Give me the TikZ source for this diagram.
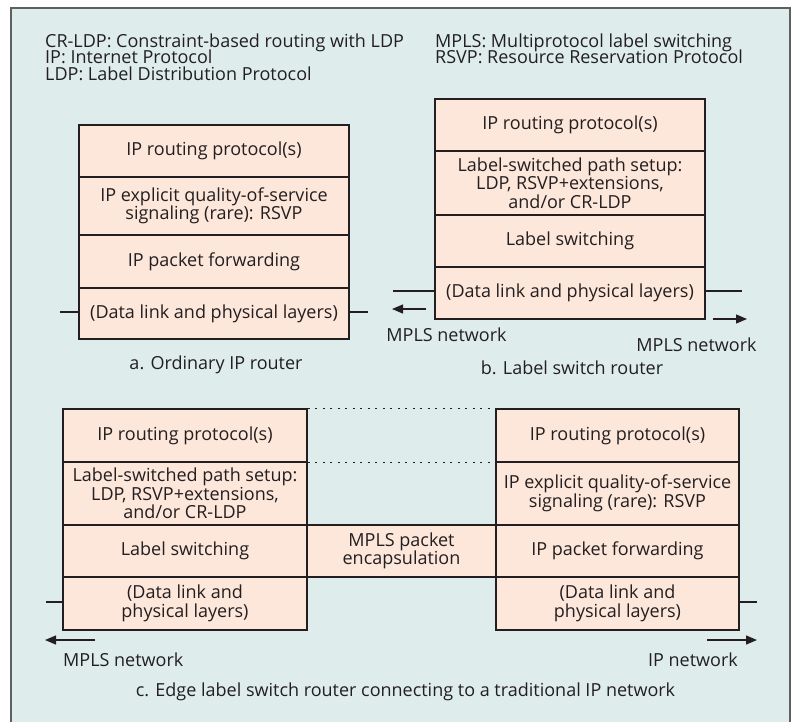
\documentclass[tikz,border=0pt]{standalone}
\usepackage{fontspec}
\setmainfont{Open Sans}
\usetikzlibrary{arrows.meta}
\definecolor{panelbg}{RGB}{222,237,236}
\definecolor{cellbg}{RGB}{253,230,218}
\definecolor{framegray}{RGB}{95,95,95}
\definecolor{ink}{RGB}{35,31,32}
\begin{document}
\begin{tikzpicture}[x=1pt,y=-1pt,
  txt/.style={font=\fontsize{18}{18.5}\selectfont, text=ink, inner sep=0pt},
  legend/.style={txt, anchor=west, text height=12pt, text depth=4pt},
  cell/.style={txt, draw=ink, line width=1.3pt, fill=cellbg, align=center},
  wire/.style={draw=ink, line width=1.3pt},
  netarrow/.style={draw=ink, line width=1.3pt, -{Triangle[length=11pt,width=9pt]}},
  guide/.style={draw=ink, line width=1pt, dash pattern=on 2pt off 5.5pt}
]
\useasboundingbox (0,0) rectangle (798,721);
% background panel
\fill[white] (0,0) rectangle (798,721);
\draw[framegray, line width=2pt, fill=panelbg] (11,8) rectangle (790,724);

% abbreviations
\node[legend] (l1) at (45,43) {CR-LDP: Constraint-based routing with LDP};
\node[legend] (l2) at (45,59.5) {IP: Internet Protocol};
\node[legend] (l3) at (45,76) {LDP: Label Distribution Protocol};
\node[legend] (l4) at (435,43) {MPLS: Multiprotocol label switching};
\node[legend] (l5) at (435,59.5) {RSVP: Resource Reservation Protocol};

% a. ordinary IP router
\node[cell, minimum width=270pt, minimum height=52pt] (a1) at (214,151) {IP routing protocol(s)};
\node[cell, minimum width=270pt, minimum height=58pt] (a2) at (214,206) {IP explicit quality-of-service\\signaling (rare): RSVP};
\node[cell, minimum width=270pt, minimum height=53pt] (a3) at (214,261.5) {IP packet forwarding};
\node[cell, minimum width=270pt, minimum height=51pt] (a4) at (214,313.5) {(Data link and physical layers)};
\coordinate (aL) at (60,312);
\coordinate (aR) at (368,312);
\draw[wire] (aL) -- (a4.west |- aL);
\draw[wire] (a4.east |- aR) -- (aR);
\node[txt] (capa) at (216,365) {a. Ordinary IP router};

% b. label switch router
\node[cell, minimum width=270pt, minimum height=52pt] (b1) at (570,125) {IP routing protocol(s)};
\node[cell, minimum width=270pt, minimum height=64pt] (b2) at (570,183) {Label-switched path setup:\\LDP, RSVP+extensions,\\and/or CR-LDP};
\node[cell, minimum width=270pt, minimum height=52pt] (b3) at (570,241) {Label switching};
\node[cell, minimum width=270pt, minimum height=52pt] (b4) at (570,293) {(Data link and physical layers)};
\coordinate (bL) at (393,291);
\coordinate (bR) at (742,291);
\draw[wire] (bL) -- (b4.west |- bL);
\draw[wire] (b4.east |- bR) -- (bR);
\coordinate (bLa) at (426,309);
\coordinate (bLb) at (392,309);
\coordinate (bRa) at (713,319);
\coordinate (bRb) at (747,319);
\draw[netarrow] (bLa) -- (bLb);
\draw[netarrow] (bRa) -- (bRb);
\node[txt] (bnl) at (446.5,335) {MPLS network};
\node[txt] (bnr) at (696.5,345) {MPLS network};
\node[txt] (capb) at (572,368) {b. Label switch router};

% c. edge label switch router
\node[cell, minimum width=244pt, minimum height=53pt] (c1) at (185,435.5) {IP routing protocol(s)};
\node[cell, minimum width=244pt, minimum height=63pt] (c2) at (185,493.5) {Label-switched path setup:\\LDP, RSVP+extensions,\\and/or CR-LDP};
\node[cell, minimum width=244pt, minimum height=52pt] (c3) at (185,551) {Label switching};
\node[cell, minimum width=244pt, minimum height=53pt] (c4) at (185,603.5) {(Data link and\\physical layers)};
\node[cell, minimum width=189pt, minimum height=52pt] (cm) at (401.5,551) {MPLS packet\\encapsulation};
\node[cell, minimum width=243pt, minimum height=53pt] (d1) at (617.5,435.5) {IP routing protocol(s)};
\node[cell, minimum width=243pt, minimum height=63pt] (d2) at (617.5,493.5) {IP explicit quality-of-service\\signaling (rare): RSVP};
\node[cell, minimum width=243pt, minimum height=52pt] (d3) at (617.5,551) {IP packet forwarding};
\node[cell, minimum width=243pt, minimum height=53pt] (d4) at (617.5,603.5) {(Data link and\\physical layers)};
\draw[guide] (c1.north east) -- (d1.north west);
\draw[guide] (c1.south east) -- (d1.south west);
\coordinate (cL) at (46,602);
\coordinate (cR) at (757,602);
\draw[wire] (cL) -- (c4.west |- cL);
\draw[wire] (d4.east |- cR) -- (cR);
\coordinate (cLa) at (95,640);
\coordinate (cLb) at (45,640);
\coordinate (cRa) at (707,640);
\coordinate (cRb) at (757,640);
\draw[netarrow] (cLa) -- (cLb);
\draw[netarrow] (cRa) -- (cRb);
\node[txt, anchor=west] (cnl) at (63,660) {MPLS network};
\node[txt, anchor=east] (cnr) at (738,660) {IP network};
\node[txt] (capc) at (405.5,692) {c. Edge label switch router connecting to a traditional IP network};
\end{tikzpicture}
\end{document}
